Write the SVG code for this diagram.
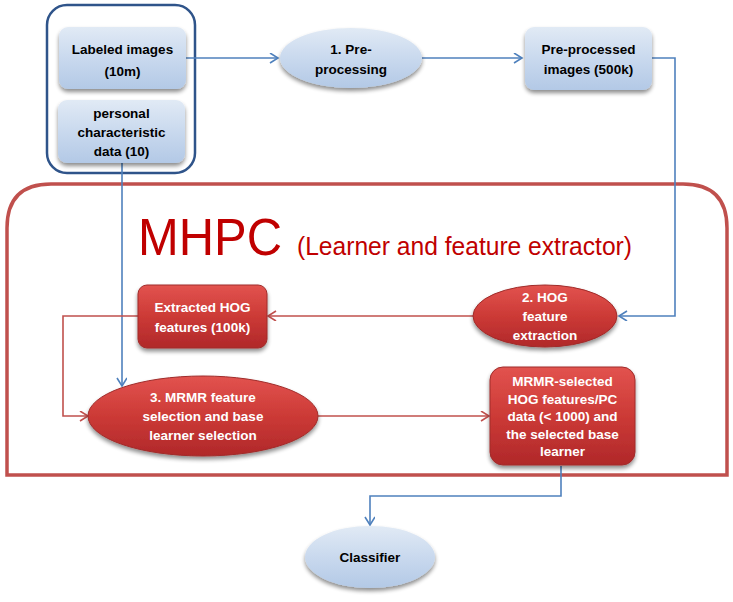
<svg xmlns="http://www.w3.org/2000/svg" width="733" height="602" viewBox="0 0 733 602">
<style>
.bt{font-family:"Liberation Sans",Arial,sans-serif;font-weight:bold;font-size:13.5px;fill:#000;text-anchor:middle}
.wt{font-family:"Liberation Sans",Arial,sans-serif;font-weight:bold;font-size:13.5px;fill:#fff;text-anchor:middle}
.bn{fill:url(#gb);filter:url(#sh)}
.rn{fill:url(#gr);stroke:#a02c2a;stroke-width:1;filter:url(#sh)}
.cb{fill:none;stroke:#4f81bd;stroke-width:1.6}
.cr{fill:none;stroke:#c0504d;stroke-width:1.6}
</style>
<defs>
<linearGradient id="gb" x1="0" y1="0" x2="0" y2="1">
<stop offset="0" stop-color="#e1eaf5"/><stop offset="0.5" stop-color="#c9d9ee"/><stop offset="1" stop-color="#b3c9e6"/>
</linearGradient>
<linearGradient id="gr" x1="0" y1="0" x2="0" y2="1">
<stop offset="0" stop-color="#e2534f"/><stop offset="0.5" stop-color="#cc3a36"/><stop offset="1" stop-color="#b0282a"/>
</linearGradient>
<filter id="sh" x="-20%" y="-20%" width="140%" height="150%">
<feGaussianBlur in="SourceAlpha" stdDeviation="2"/>
<feOffset dx="0" dy="2.5" result="b"/>
<feComponentTransfer><feFuncA type="linear" slope="0.45"/></feComponentTransfer>
<feMerge><feMergeNode/><feMergeNode in="SourceGraphic"/></feMerge>
</filter>
<marker id="ab" markerWidth="12" markerHeight="12" refX="9" refY="5" orient="auto" markerUnits="userSpaceOnUse">
<path d="M1,0 L9,5 L1,10" fill="none" stroke="#4f81bd" stroke-width="1.6"/>
</marker>
<marker id="ar" markerWidth="12" markerHeight="12" refX="9" refY="5" orient="auto" markerUnits="userSpaceOnUse">
<path d="M1,0 L9,5 L1,10" fill="none" stroke="#c0504d" stroke-width="1.6"/>
</marker>
</defs>
<rect width="733" height="602" fill="#fff"/>

<g id="mhpc">
<path d="M7,475 L7,228 Q7,184 51,184 L683,184 Q727,184 727,228 L727,475 Z" fill="#fff" stroke="#c0504d" stroke-width="3.5"/>
<text x="138" y="255" font-family="'Liberation Sans',Arial,sans-serif" font-size="51" fill="#c00000" textLength="144" lengthAdjust="spacingAndGlyphs">MHPC</text>
<text x="297" y="255" font-family="'Liberation Sans',Arial,sans-serif" font-size="25" fill="#c00000" textLength="335" lengthAdjust="spacingAndGlyphs">(Learner and feature extractor)</text>
</g>

<g id="inputs">
<rect x="47" y="5" width="148" height="168" rx="20" fill="none" stroke="#2f548a" stroke-width="2.5"/>
</g>

<g id="connectors">
<path class="cb" d="M186,58 L278,58" marker-end="url(#ab)"/>
<path class="cb" d="M422,58 L522,58" marker-end="url(#ab)"/>
<path class="cb" d="M652,58 L675,58 L675,316 L619,316" marker-end="url(#ab)"/>
<path class="cb" d="M122,163 L122,386" marker-end="url(#ab)"/>
<path class="cr" d="M473,316 L268,316" marker-end="url(#ar)"/>
<path class="cr" d="M138,316 L63,316 L63,416 L88,416" marker-end="url(#ar)"/>
<path class="cr" d="M318,416 L489,416" marker-end="url(#ar)"/>
<path class="cb" d="M561,466 L561,496 L370,496 L370,525" marker-end="url(#ab)"/>
</g>

<g id="labeled">
<rect class="bn" x="59" y="27" width="127" height="62" rx="9"/>
<text class="bt" x="122.5" y="54">Labeled images</text>
<text class="bt" x="122.5" y="76">(10m)</text>
</g>
<g id="personal">
<rect class="bn" x="58" y="100" width="127" height="63" rx="9"/>
<text class="bt" x="121.5" y="118">personal</text>
<text class="bt" x="121.5" y="137">characteristic</text>
<text class="bt" x="121.5" y="156">data (10)</text>
</g>
<g id="preprocessing">
<ellipse class="bn" cx="351" cy="58" rx="71" ry="30"/>
<text class="bt" x="351" y="54">1. Pre-</text>
<text class="bt" x="351" y="74">processing</text>
</g>
<g id="preprocessed">
<rect class="bn" x="525" y="27" width="127" height="63" rx="9"/>
<text class="bt" x="588.5" y="54">Pre-processed</text>
<text class="bt" x="588.5" y="74">images (500k)</text>
</g>
<g id="hog">
<ellipse class="rn" cx="545" cy="316" rx="72" ry="31"/>
<text class="wt" x="545" y="302">2. HOG</text>
<text class="wt" x="545" y="321">feature</text>
<text class="wt" x="545" y="340">extraction</text>
</g>
<g id="extracted">
<rect class="rn" x="138" y="285" width="129" height="63" rx="9"/>
<text class="wt" x="202.5" y="312">Extracted HOG</text>
<text class="wt" x="202.5" y="332">features (100k)</text>
</g>
<g id="mrmr">
<ellipse class="rn" cx="203" cy="416" rx="115" ry="40"/>
<text class="wt" x="203" y="402">3. MRMR feature</text>
<text class="wt" x="203" y="421">selection and base</text>
<text class="wt" x="203" y="440">learner selection</text>
</g>
<g id="selected">
<rect class="rn" x="490" y="367" width="145" height="98" rx="13"/>
<text class="wt" x="562.5" y="386">MRMR-selected</text>
<text class="wt" x="562.5" y="403.5">HOG features/PC</text>
<text class="wt" x="562.5" y="421">data  (&lt; 1000)  and</text>
<text class="wt" x="562.5" y="438.5">the selected base</text>
<text class="wt" x="562.5" y="456">learner</text>
</g>
<g id="classifier">
<ellipse class="bn" cx="370" cy="557" rx="65" ry="31"/>
<text class="bt" x="370" y="562">Classifier</text>
</g>
</svg>
